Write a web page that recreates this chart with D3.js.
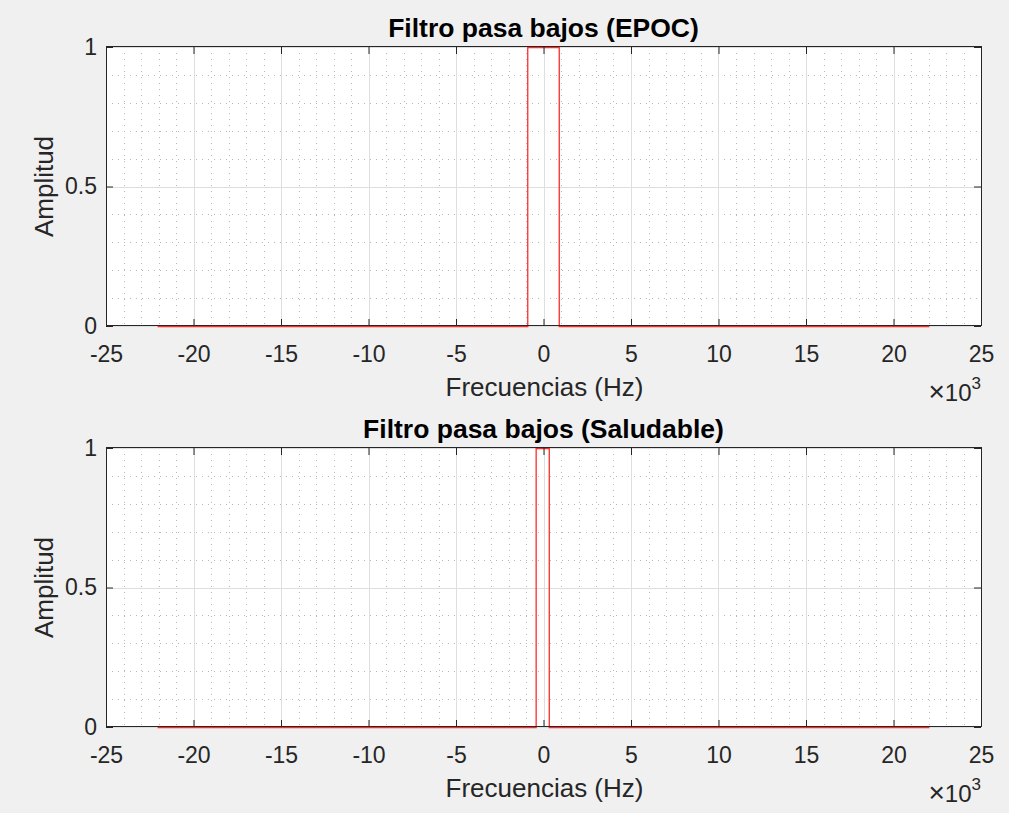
<!DOCTYPE html>
<html>
<head>
<meta charset="utf-8">
<script src="https://cdn.jsdelivr.net/npm/d3@7"></script>
<style>
  body { margin: 0; background: #f0f0f0; }
  svg { display: block; font-family: "Liberation Sans", Arial, Helvetica, sans-serif; }
</style>
</head>
<body>
<svg id="chart" width="1009" height="813"></svg>
<script>
// data (Hz / amplitude)
const xTicks = [-25000, -20000, -15000, -10000, -5000, 0, 5000, 10000, 15000, 20000, 25000];
const yTicks = [0, 0.5, 1];
const titles = ["Filtro pasa bajos (EPOC)", "Filtro pasa bajos (Saludable)"];
const freqEpoc = [-22050, -900, -900, 900, 900, 22050];
const ampEpoc = [0, 0, 1, 1, 0, 0];
const freqSano = [-22050, -420, -420, 330, 330, 22050];
const ampSano = [0, 0, 1, 1, 0, 0];

const svg = d3.select("#chart");
const left = 106, right = 981, plotH = 279;
const tickColor = "#262626";

const x = d3.scaleLinear().domain([-25000, 25000]).range([left, right]);

// Draws one subplot with the top edge at y0
function drawPanel(y0, title, freqs, amps) {
  const y = d3.scaleLinear().domain([0, 1]).range([y0 + plotH + 0.5, y0 + 0.5]);
  const g = svg.append("g");

  g.append("rect")
    .attr("x", left).attr("y", y0)
    .attr("width", right - left).attr("height", plotH)
    .attr("fill", "#fff");

  // minor grid (dotted)
  const minorX = d3.range(-25000, 25001, 1000).filter(v => v % 5000 !== 0);
  const minorY = d3.range(1, 10).map(i => i / 10).filter(v => v !== 0.5);
  g.selectAll("line.mx").data(minorX).enter().append("line")
    .attr("x1", d => Math.round(x(d)) + 0.5).attr("x2", d => Math.round(x(d)) + 0.5)
    .attr("y1", y0).attr("y2", y0 + plotH)
    .attr("stroke", "#b8b8b8").attr("stroke-dasharray", "1,5");
  g.selectAll("line.my").data(minorY).enter().append("line")
    .attr("y1", d => Math.floor(y(d)) + 0.5).attr("y2", d => Math.floor(y(d)) + 0.5)
    .attr("x1", left).attr("x2", right)
    .attr("stroke", "#b8b8b8").attr("stroke-dasharray", "1,5");

  // major grid
  g.selectAll("line.gx").data(xTicks).enter().append("line")
    .attr("x1", d => Math.round(x(d)) + 0.5).attr("x2", d => Math.round(x(d)) + 0.5)
    .attr("y1", y0).attr("y2", y0 + plotH)
    .attr("stroke", "#dedede");
  g.selectAll("line.gy").data(yTicks).enter().append("line")
    .attr("y1", d => Math.floor(y(d)) + 0.5).attr("y2", d => Math.floor(y(d)) + 0.5)
    .attr("x1", left).attr("x2", right)
    .attr("stroke", "#dedede");

  // filter response
  const line = d3.line().x(d => x(d[0])).y(d => y(d[1]));
  g.append("path")
    .datum(freqs.map((f, i) => [f, amps[i]]))
    .attr("d", line)
    .attr("fill", "none")
    .attr("stroke", "#ff2a2a")
    .attr("stroke-width", 1.3);

  // axes (ticks inward)
  const styleAxis = sel => {
    sel.select(".domain").remove();
    sel.selectAll("line").attr("stroke", tickColor);
    sel.selectAll("text").attr("fill", tickColor).style("font-size", "23px");
  };
  g.append("g").attr("transform", `translate(0,${y0 + plotH})`)
    .call(d3.axisBottom(x).tickValues(xTicks).tickFormat(d => d / 1000)
      .tickSizeInner(-7).tickSizeOuter(0).tickPadding(20))
    .call(styleAxis);
  g.append("g").attr("transform", `translate(0,${y0})`)
    .call(d3.axisTop(x).tickValues(xTicks).tickFormat("")
      .tickSizeInner(-7).tickSizeOuter(0))
    .call(styleAxis);
  g.append("g").attr("transform", `translate(${left},-0.5)`)
    .call(d3.axisLeft(y).tickValues(yTicks).tickFormat(d3.format("~g"))
      .tickSizeInner(-7).tickSizeOuter(0).tickPadding(9))
    .call(styleAxis);
  g.append("g").attr("transform", `translate(${right},-0.5)`)
    .call(d3.axisRight(y).tickValues(yTicks).tickFormat("")
      .tickSizeInner(-7).tickSizeOuter(0))
    .call(styleAxis);

  // box (sits a hair above the zero line so the red trace shows beneath it)
  g.append("rect")
    .attr("x", left + 0.5).attr("y", y0 - 0.5)
    .attr("width", right - left).attr("height", plotH)
    .attr("fill", "none").attr("stroke", tickColor);

  // labels
  g.append("text")
    .attr("x", (left + right) / 2).attr("y", y0 - 10)
    .attr("text-anchor", "middle")
    .style("font-size", "26.5px").style("font-weight", "bold")
    .attr("fill", "#000")
    .text(title);

  g.append("text")
    .attr("x", (left + right) / 2 + 1).attr("y", y0 + plotH + 70)
    .attr("text-anchor", "middle")
    .style("font-size", "26px").attr("fill", tickColor)
    .text("Frecuencias (Hz)");

  g.append("text")
    .attr("transform", `translate(53,${y0 + plotH / 2}) rotate(-90)`)
    .attr("text-anchor", "middle")
    .style("font-size", "26px").attr("fill", tickColor)
    .text("Amplitud");

  const exp = g.append("text")
    .attr("x", right).attr("y", y0 + plotH + 75)
    .attr("text-anchor", "end")
    .style("font-size", "24px").attr("fill", tickColor);
  exp.append("tspan").style("font-size", "28px").style("font-weight", "300").text("\u00d7");
  exp.append("tspan").text("10");
  exp.append("tspan").attr("dy", -12).style("font-size", "17px").text("3");
}

drawPanel(47, titles[0], freqEpoc, ampEpoc);
drawPanel(448, titles[1], freqSano, ampSano);
</script>
</body>
</html>
